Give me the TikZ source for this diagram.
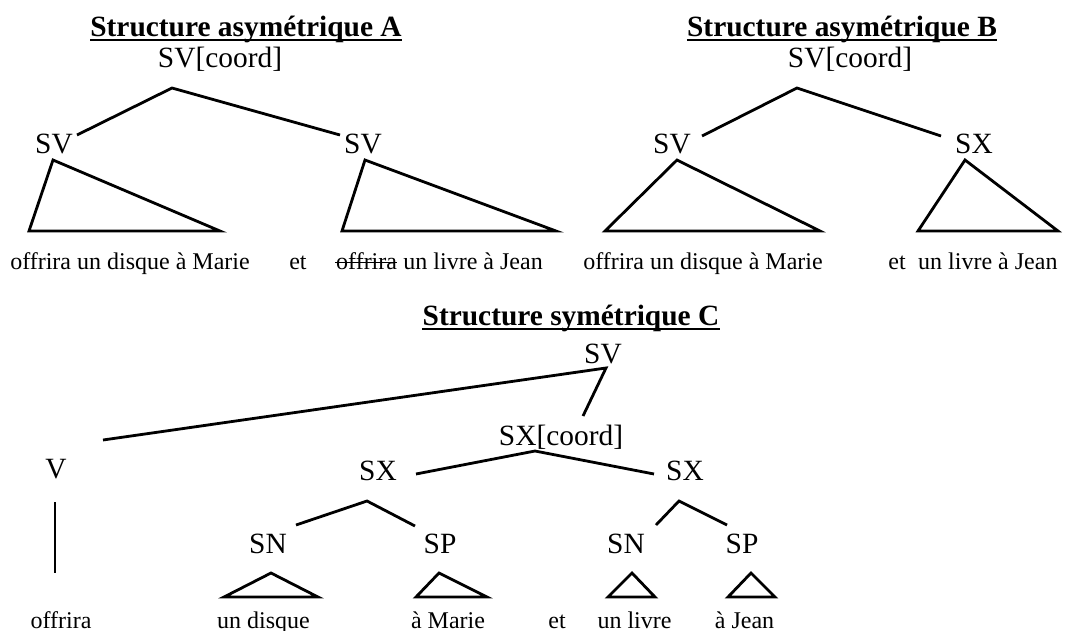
\documentclass[tikz,border=0pt]{standalone}
\usepackage{fontspec}
\setmainfont{Liberation Serif}
\begin{document}
\begin{tikzpicture}[x=1pt,y=-1pt,
  lab/.style={font=\fontsize{29.4}{34}\selectfont, anchor=base, inner sep=0pt},
  word/.style={font=\fontsize{24}{28}\selectfont, anchor=base, inner sep=0pt},
  ttl/.style={font=\fontsize{29.4}{34}\selectfont\bfseries, anchor=base, inner sep=0pt},
  edge/.style={line width=2.8pt},
  tri/.style={line width=2.8pt, line join=miter},
  thin/.style={line width=1.6pt},
]
\useasboundingbox (0,0) rectangle (1071,630);

% Titles
\node[ttl] (tA) at (246,36) {Structure asymétrique A};
\node[ttl] (tB) at (842,36) {Structure asymétrique B};
\node[ttl] (tC) at (571,325) {Structure symétrique C};
\foreach \t in {tA,tB,tC}{
  \draw[thin] ([yshift=-4pt]\t.base west) -- ([yshift=-4pt]\t.base east);
}

% ---------- Tree A ----------
\node[lab] (A) at (220,67) {SV[coord]};
\node[lab] (A1) at (54,153) {SV};
\node[lab] (A2) at (363,153) {SV};
\coordinate (Atop) at (172,88);
\coordinate (A1e) at (77,135);
\coordinate (A2e) at (340,135);
\draw[edge] (A1e) -- (Atop) -- (A2e);
\coordinate (A1t) at (53,160);
\coordinate (A1l) at (29,231);
\coordinate (A1r) at (220,231);
\draw[tri] (A1t) -- (A1l) -- (A1r) -- cycle;
\coordinate (A2t) at (365,160);
\coordinate (A2l) at (342,231);
\coordinate (A2r) at (556,231);
\draw[tri] (A2t) -- (A2l) -- (A2r) -- cycle;
\node[word] (wA1) at (130,269) {offrira un disque à Marie};
\node[word] (wAet) at (298,269) {et};
\node[word, anchor=base west] (wA2s) at (336,269) {offrira};
\node[word, anchor=base west] (wA2) at ([xshift=6pt]wA2s.base east) {un livre à Jean};
\draw[thin] ([yshift=6.5pt,xshift=-1pt]wA2s.base west) -- ([yshift=6.5pt]wA2s.base east);

% ---------- Tree B ----------
\node[lab] (B) at (850,67) {SV[coord]};
\node[lab] (B1) at (672,153) {SV};
\node[lab] (B2) at (974,153) {SX};
\coordinate (Btop) at (797,88);
\coordinate (B1e) at (702,136);
\coordinate (B2e) at (941,136);
\draw[edge] (B1e) -- (Btop) -- (B2e);
\coordinate (B1t) at (677,160);
\coordinate (B1l) at (605,231);
\coordinate (B1r) at (820,231);
\draw[tri] (B1t) -- (B1l) -- (B1r) -- cycle;
\coordinate (B2t) at (965,160);
\coordinate (B2l) at (918,231);
\coordinate (B2r) at (1058,231);
\draw[tri] (B2t) -- (B2l) -- (B2r) -- cycle;
\node[word] (wB1) at (703,269) {offrira un disque à Marie};
\node[word] (wBet) at (897,269) {et};
\node[word, anchor=base west] (wB2) at (918,269) {un livre à Jean};

% ---------- Tree C ----------
\node[lab] (C) at (603,363) {SV};
\coordinate (Ctop) at (606,368);
\coordinate (CVe) at (103,440);
\coordinate (CXe) at (583,416);
\draw[edge] (CVe) -- (Ctop) -- (CXe);
\node[lab] (CX) at (561,445) {SX[coord]};
\coordinate (CXtop) at (535,451);
\coordinate (CX1e) at (416,474);
\coordinate (CX2e) at (654,474);
\draw[edge] (CX1e) -- (CXtop) -- (CX2e);
\node[lab] (V) at (56,478) {V};
\coordinate (Vt) at (55,502);
\coordinate (Vb) at (55,573);
\draw[edge] (Vt) -- (Vb);
\node[lab] (X1) at (378,480) {SX};
\node[lab] (X2) at (685,480) {SX};
\coordinate (X1top) at (367,501);
\coordinate (X1l) at (296,525);
\coordinate (X1r) at (415,526);
\draw[edge] (X1l) -- (X1top) -- (X1r);
\coordinate (X2top) at (679,501);
\coordinate (X2l) at (656,525);
\coordinate (X2r) at (727,525);
\draw[edge] (X2l) -- (X2top) -- (X2r);
\node[lab] (N1) at (268,553) {SN};
\node[lab] (P1) at (440,553) {SP};
\node[lab] (N2) at (626,553) {SN};
\node[lab] (P2) at (742,553) {SP};
\coordinate (N1t) at (271,573);
\coordinate (N1l) at (224,597);
\coordinate (N1r) at (318,597);
\draw[tri] (N1t) -- (N1l) -- (N1r) -- cycle;
\coordinate (P1t) at (439,573);
\coordinate (P1l) at (416,597);
\coordinate (P1r) at (487,597);
\draw[tri] (P1t) -- (P1l) -- (P1r) -- cycle;
\coordinate (N2t) at (632,573);
\coordinate (N2l) at (608,597);
\coordinate (N2r) at (655,597);
\draw[tri] (N2t) -- (N2l) -- (N2r) -- cycle;
\coordinate (P2t) at (751,573);
\coordinate (P2l) at (728,597);
\coordinate (P2r) at (775,597);
\draw[tri] (P2t) -- (P2l) -- (P2r) -- cycle;
\node[word] (wV) at (61,628) {offrira};
\node[word] (wN1) at (263.5,628) {un disque};
\node[word] (wP1) at (448,628) {à Marie};
\node[word] (wet) at (557,628) {et};
\node[word] (wN2) at (634.5,628) {un livre};
\node[word] (wP2) at (744.5,628) {à Jean};
\end{tikzpicture}
\end{document}
